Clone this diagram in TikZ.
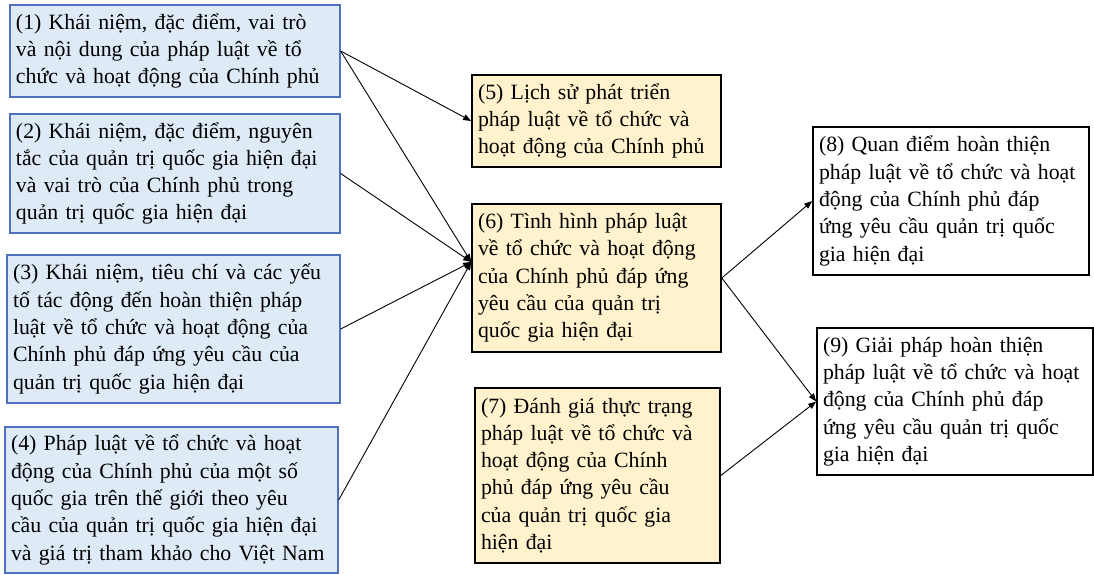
\documentclass[tikz,border=0pt]{standalone}
\usepackage{fontspec}
\setmainfont{Liberation Serif}
\usepackage{xcolor}
\usetikzlibrary{arrows.meta}
\definecolor{boxblue}{RGB}{222,235,247}
\definecolor{lineblue}{RGB}{79,113,190}
\definecolor{boxyellow}{RGB}{255,242,204}

\begin{document}
\begin{tikzpicture}[x=1pt,y=-1pt,
    font=\fontsize{21.8}{27.3}\selectfont,
    basebox/.style={align=left,inner xsep=6pt,inner ysep=0pt},
    bluebox/.style={basebox,fill=boxblue,draw=lineblue,line width=1.3pt},
    yellowbox/.style={basebox,fill=boxyellow,draw=black,line width=1.6pt},
    plainbox/.style={basebox,fill=white,draw=black,line width=1.6pt},
    link/.style={-{Triangle[length=8pt,width=6pt]},line width=0.9pt}]
    \useasboundingbox (0,0) rectangle (1094,575);

    % left column
    \node[bluebox,text width=318pt,minimum height=92pt] (k1) at (175,51)
      {(1) Khái niệm, đặc điểm, vai trò\\và nội dung của pháp luật về tổ\\chức và hoạt động của Chính phủ};
    \node[bluebox,text width=318pt,minimum height=119pt] (k2) at (175,173.5)
      {(2) Khái niệm, đặc điểm, nguyên\\tắc của quản trị quốc gia hiện đại\\và vai trò của Chính phủ trong\\quản trị quốc gia hiện đại};
    \node[bluebox,text width=321pt,minimum height=148pt] (k3) at (173.5,329)
      {(3) Khái niệm, tiêu chí và các yếu\\tố tác động đến hoàn thiện pháp\\luật về tổ chức và hoạt động của\\Chính phủ đáp ứng yêu cầu của\\quản trị quốc gia hiện đại};
    \node[bluebox,text width=321pt,minimum height=146pt] (k4) at (171.5,500)
      {(4) Pháp luật về tổ chức và hoạt\\động của Chính phủ của một số\\quốc gia trên thế giới theo yêu\\cầu của quản trị quốc gia hiện đại\\và giá trị tham khảo cho Việt Nam};

    % middle column
    \node[yellowbox,text width=237pt,minimum height=92pt] (k5) at (596.5,121)
      {(5) Lịch sử phát triển\\pháp luật về tổ chức và\\hoạt động của Chính phủ};
    \node[yellowbox,text width=237pt,minimum height=148pt] (k6) at (596.5,278)
      {(6) Tình hình pháp luật\\về tổ chức và hoạt động\\của Chính phủ đáp ứng\\yêu cầu của quản trị\\quốc gia hiện đại};
    \node[yellowbox,text width=233pt,minimum height=175pt] (k7) at (597.5,475.5)
      {(7) Đánh giá thực trạng\\pháp luật về tổ chức và\\hoạt động của Chính\\phủ đáp ứng yêu cầu\\của quản trị quốc gia\\hiện đại};

    % right column
    \node[plainbox,text width=264pt,minimum height=148pt] (k8) at (951,201)
      {(8) Quan điểm hoàn thiện\\pháp luật về tổ chức và hoạt\\động của Chính phủ đáp\\ứng yêu cầu quản trị quốc\\gia hiện đại};
    \node[plainbox,text width=264pt,minimum height=147pt] (k9) at (955,401.5)
      {(9) Giải pháp hoàn thiện\\pháp luật về tổ chức và hoạt\\động của Chính phủ đáp\\ứng yêu cầu quản trị quốc\\gia hiện đại};

    \coordinate (in6) at ([yshift=16pt]k6.west);
    \draw[link] (k1.east) -- (k5.west);
    \foreach \k in {k1,k2,k3,k4}
    {
      \draw[link] (\k.east) -- (in6);
    }
    \draw[link] (k6.east) -- (k8.west);
    \draw[link] (k6.east) -- (k9.west);
    \draw[link] (k7.east) -- (k9.west);
  \end{tikzpicture}
\end{document}
